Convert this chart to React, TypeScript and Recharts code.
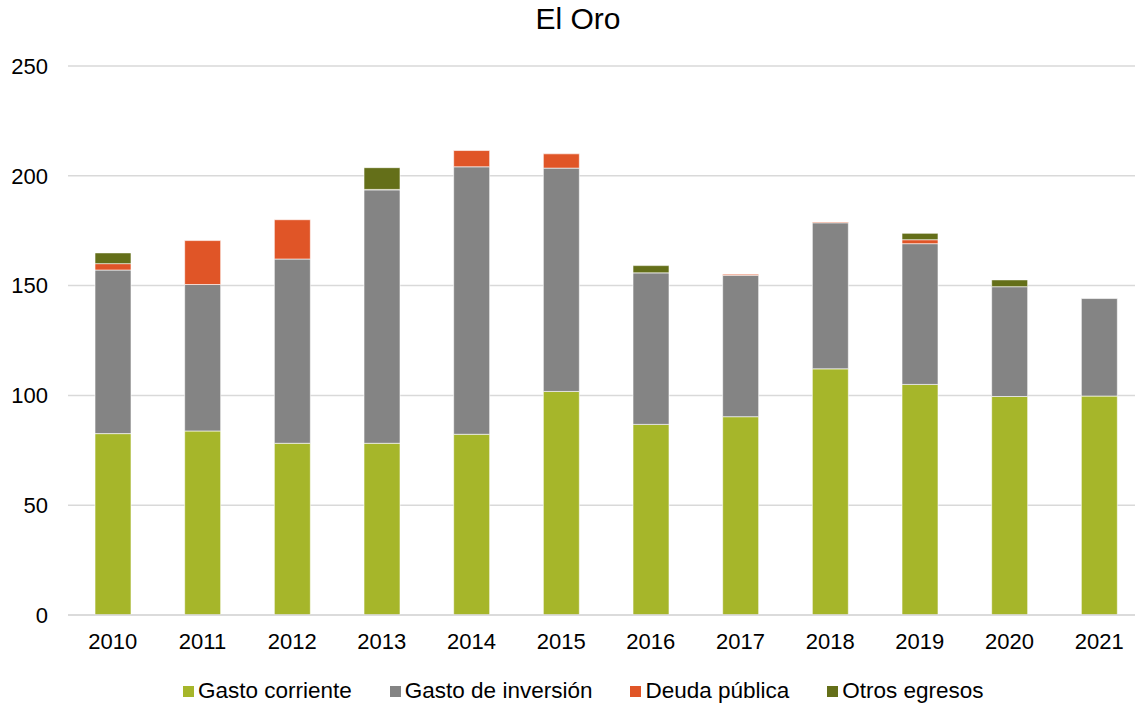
import { BarChart, Bar, XAxis, YAxis, CartesianGrid } from "recharts";

const years = ["2010", "2011", "2012", "2013", "2014", "2015", "2016", "2017", "2018", "2019", "2020", "2021"];
const gastoCorriente = [82.6, 83.8, 78.2, 78.2, 82.3, 101.8, 86.8, 90.3, 112.1, 105.0, 99.5, 99.7];
const gastoInversion = [74.5, 66.7, 83.9, 115.4, 121.8, 101.7, 69.0, 64.4, 66.5, 64.1, 50.0, 44.4];
const deudaPublica = [2.9, 20.0, 17.9, 0.2, 7.4, 6.5, 0, 0.5, 0.4, 1.8, 0, 0];
const otrosEgresos = [4.9, 0, 0, 9.9, 0, 0, 3.3, 0, 0, 2.9, 3.1, 0];
const yTicks = [0, 50, 100, 150, 200, 250];

const series = [
  { key: "corriente", name: "Gasto corriente", color: "#A6B62A" },
  { key: "inversion", name: "Gasto de inversión", color: "#848484" },
  { key: "deuda", name: "Deuda pública", color: "#E05527" },
  { key: "otros", name: "Otros egresos", color: "#646F19" },
];

const data = years.map((y, i) => ({
  year: y,
  corriente: gastoCorriente[i],
  inversion: gastoInversion[i],
  deuda: deudaPublica[i],
  otros: otrosEgresos[i],
}));

const font = "'Liberation Sans', Arial, sans-serif";

export default function App() {
  return (
    <div
      style={{
        position: "absolute",
        left: 0,
        top: 0,
        width: 1135,
        height: 708,
        overflow: "hidden",
        background: "#fff",
        fontFamily: font,
      }}
    >
      <div
        style={{
          position: "absolute",
          left: 0,
          width: 1156,
          top: 2,
          textAlign: "center",
          fontSize: 30,
          color: "#000",
        }}
      >
        El Oro
      </div>
      <BarChart
        width={1150}
        height={708}
        data={data}
        margin={{ top: 66, right: 6, bottom: 0, left: 0 }}
        barSize={36}
      >
        <CartesianGrid stroke="#D9D9D9" strokeWidth={1.5} vertical={false} />
        <XAxis
          dataKey="year"
          tickLine={false}
          axisLine={{ stroke: "#D9D9D9", strokeWidth: 1.5 }}
          tick={{ fill: "#000", fontSize: 22, fontFamily: font }}
          tickMargin={12}
          height={93}
        />
        <YAxis
          width={68}
          domain={[0, 250]}
          ticks={yTicks}
          tickLine={false}
          axisLine={false}
          tickMargin={14}
          tick={{ fill: "#000", fontSize: 22, fontFamily: font }}
        />
        {series.map((s) => (
          <Bar
            key={s.key}
            dataKey={s.key}
            name={s.name}
            stackId="a"
            fill={s.color}
            stroke="#ffffff"
            strokeOpacity={0.6}
            strokeWidth={1}
            isAnimationActive={false}
          />
        ))}
      </BarChart>
      <div
        style={{
          position: "absolute",
          left: 183,
          top: 678,
          display: "flex",
          alignItems: "center",
          fontSize: 22.5,
          color: "#000",
          whiteSpace: "nowrap",
        }}
      >
        {series.map((s) => (
          <div key={s.key} style={{ display: "flex", alignItems: "center", marginRight: 38 }}>
            <span style={{ display: "inline-block", width: 11, height: 11, background: s.color, marginRight: 4 }} />
            <span>{s.name}</span>
          </div>
        ))}
      </div>
    </div>
  );
}
